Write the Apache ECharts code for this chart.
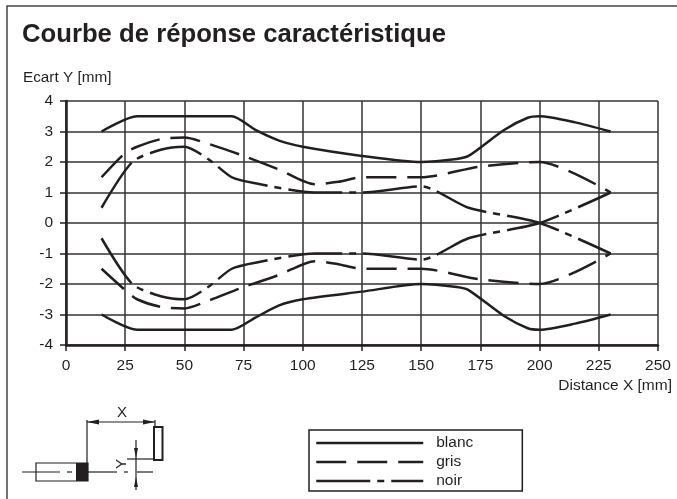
<!DOCTYPE html>
<html>
<head>
<meta charset="utf-8">
<style>html,body{margin:0;padding:0;background:#fff}#main{width:677px;height:499px}</style>
<script src="https://cdn.jsdelivr.net/npm/echarts@6/dist/echarts.min.js"></script>
</head>
<body>
<div id="main"></div>
<script>
// values: [distance mm, ecart mm]
var blancHaut = [[15,3],[30,3.5],[50,3.5],[70,3.5],[80,3.05],[90,2.7],[100,2.5],[125,2.2],[150,2],[165,2.1],[170,2.2],[185,3.05],[195,3.45],[200,3.5],[215,3.3],[230,3]];
var blancBas = [[15,-3],[30,-3.5],[50,-3.5],[70,-3.5],[80,-3.1],[90,-2.7],[100,-2.5],[125,-2.25],[150,-2],[165,-2.1],[170,-2.2],[185,-3.05],[195,-3.45],[200,-3.5],[215,-3.3],[230,-3]];
var grisHaut = [[15,1.5],[25,2.3],[30,2.5],[40,2.75],[50,2.8],[60,2.6],[75,2.2],[90,1.75],[105,1.27],[115,1.35],[125,1.5],[150,1.5],[175,1.85],[200,2],[230,1]];
var grisBas = [[15,-1.5],[25,-2.2],[30,-2.5],[40,-2.75],[50,-2.8],[60,-2.55],[75,-2.1],[90,-1.7],[105,-1.25],[115,-1.35],[125,-1.5],[150,-1.5],[175,-1.85],[200,-2],[230,-1]];
var noirHaut = [[15,0.5],[28,2],[40,2.4],[50,2.5],[60,2.1],[70,1.5],[80,1.3],[105,1],[125,1],[150,1.2],[170,0.5],[200,0],[230,-1]];
var noirBas = [[15,-0.5],[28,-2],[40,-2.4],[50,-2.5],[60,-2.1],[70,-1.5],[80,-1.3],[105,-1],[125,-1],[150,-1.2],[170,-0.5],[200,0],[230,1]];

var ink = '#231f20';
var police = '"Liberation Sans", Arial, sans-serif';
var traitGris = [30, 11];
var traitNoir = [54, 7, 7, 7];

function courbe(name, data, dash) {
    return {
        name: name,
        type: 'line',
        data: data,
        smooth: 0.25,
        showSymbol: false,
        symbol: 'none',
        z: 5,
        lineStyle: { color: ink, width: 2.5, type: dash, cap: 'butt' },
        itemStyle: { color: ink }
    };
}

var myChart = echarts.init(document.getElementById('main'));

var option = {
    animation: false,
    backgroundColor: '#fff',
    title: {
        text: 'Courbe de réponse caractéristique',
        left: 17,
        top: 17,
        textStyle: { fontFamily: police, fontSize: 25.7, fontWeight: 'bold', color: ink }
    },
    grid: { left: 66, right: 19, top: 101, bottom: 154, containLabel: false },
    legend: {
        data: ['blanc', 'gris', 'noir'],
        orient: 'vertical',
        left: 309,
        top: 430,
        padding: [5, 49, 2, 6],
        itemWidth: 107,
        itemHeight: 14,
        itemGap: 3,
        itemStyle: { opacity: 0 },
        lineStyle: { width: 2.5 },
        borderColor: ink,
        borderWidth: 1.5,
        selectedMode: false,
        textStyle: { fontFamily: police, fontSize: 15.5, color: ink, padding: [0, 0, 0, 8] }
    },
    xAxis: {
        type: 'value',
        min: 0,
        max: 250,
        interval: 25,
        name: 'Distance X [mm]',
        nameLocation: 'end',
        nameGap: 14,
        nameTextStyle: { fontFamily: police, fontSize: 15.5, color: ink, align: 'right', verticalAlign: 'top', padding: [33, 0, 0, 0] },
        axisLine: { onZero: false, lineStyle: { color: ink, width: 2.5 } },
        axisTick: { length: 6, lineStyle: { color: ink, width: 1.5 } },
        axisLabel: { fontFamily: police, fontSize: 15.5, color: ink, margin: 13 },
        splitLine: { lineStyle: { color: '#333', width: 1.5 } }
    },
    yAxis: {
        type: 'value',
        min: -4,
        max: 4,
        interval: 1,
        name: 'Ecart Y [mm]',
        nameLocation: 'end',
        nameGap: 16,
        nameTextStyle: { fontFamily: police, fontSize: 15.3, color: ink, align: 'left', padding: [0, 0, 0, -43] },
        axisLine: { onZero: false, lineStyle: { color: ink, width: 2.5 } },
        axisTick: { length: 6, lineStyle: { color: ink, width: 1.5 } },
        axisLabel: { fontFamily: police, fontSize: 15.5, color: ink, margin: 13 },
        splitLine: { lineStyle: { color: '#333', width: 1.5 } }
    },
    series: [
        courbe('blanc', blancHaut, 'solid'),
        courbe('blanc', blancBas, 'solid'),
        courbe('gris', grisHaut, traitGris),
        courbe('gris', grisBas, traitGris),
        courbe('noir', noirHaut, traitNoir),
        courbe('noir', noirBas, traitNoir)
    ],
    // cadre de la page et petit schema du capteur
    graphic: [
        { type: 'polyline', shape: { points: [[7, 499], [7, 6], [677, 6]] }, style: { fill: 'none', stroke: '#444', lineWidth: 1.5 } },
        // capteur
        { type: 'rect', shape: { x: 36, y: 463, width: 52, height: 18 }, style: { fill: '#fff', stroke: ink, lineWidth: 1.2 } },
        { type: 'rect', shape: { x: 76, y: 463, width: 12, height: 18 }, style: { fill: ink } },
        { type: 'line', shape: { x1: 22, y1: 472, x2: 60, y2: 472 }, style: { stroke: ink, lineWidth: 1.2 } },
        { type: 'line', shape: { x1: 67, y1: 472, x2: 72, y2: 472 }, style: { stroke: ink, lineWidth: 1.2 } },
        { type: 'line', shape: { x1: 88, y1: 472, x2: 117, y2: 472 }, style: { stroke: ink, lineWidth: 1.2 } },
        { type: 'line', shape: { x1: 124, y1: 472, x2: 128, y2: 472 }, style: { stroke: ink, lineWidth: 1.2 } },
        { type: 'line', shape: { x1: 137, y1: 472, x2: 153, y2: 472 }, style: { stroke: ink, lineWidth: 1.2 } },
        // cote X
        { type: 'line', shape: { x1: 87, y1: 463, x2: 87, y2: 420 }, style: { stroke: ink, lineWidth: 1.2 } },
        { type: 'line', shape: { x1: 87, y1: 422, x2: 155, y2: 422 }, style: { stroke: ink, lineWidth: 1.2 } },
        { type: 'polygon', shape: { points: [[87, 422], [99, 419.5], [99, 424.5]] }, style: { fill: ink } },
        { type: 'polygon', shape: { points: [[155, 422], [143, 419.5], [143, 424.5]] }, style: { fill: ink } },
        { type: 'line', shape: { x1: 155, y1: 420, x2: 155, y2: 428 }, style: { stroke: ink, lineWidth: 1.2 } },
        { type: 'text', style: { x: 122, y: 413, text: 'X', align: 'center', verticalAlign: 'middle', font: '15px ' + police, fill: ink } },
        // cible
        { type: 'rect', shape: { x: 154, y: 427, width: 8.5, height: 33 }, style: { fill: '#fff', stroke: ink, lineWidth: 2 } },
        { type: 'line', shape: { x1: 127, y1: 459, x2: 154, y2: 459 }, style: { stroke: ink, lineWidth: 1.2 } },
        // cote Y
        { type: 'line', shape: { x1: 136, y1: 440, x2: 136, y2: 490 }, style: { stroke: ink, lineWidth: 1.2 } },
        { type: 'polygon', shape: { points: [[136, 458], [134, 448], [138, 448]] }, style: { fill: ink } },
        { type: 'polygon', shape: { points: [[136, 477], [134, 487], [138, 487]] }, style: { fill: ink } },
        { type: 'text', rotation: Math.PI / 2, x: 122, y: 464, style: { text: 'Y', align: 'center', verticalAlign: 'middle', font: '15px ' + police, fill: ink } }
    ]
};

myChart.setOption(option);
</script>
</body>
</html>
